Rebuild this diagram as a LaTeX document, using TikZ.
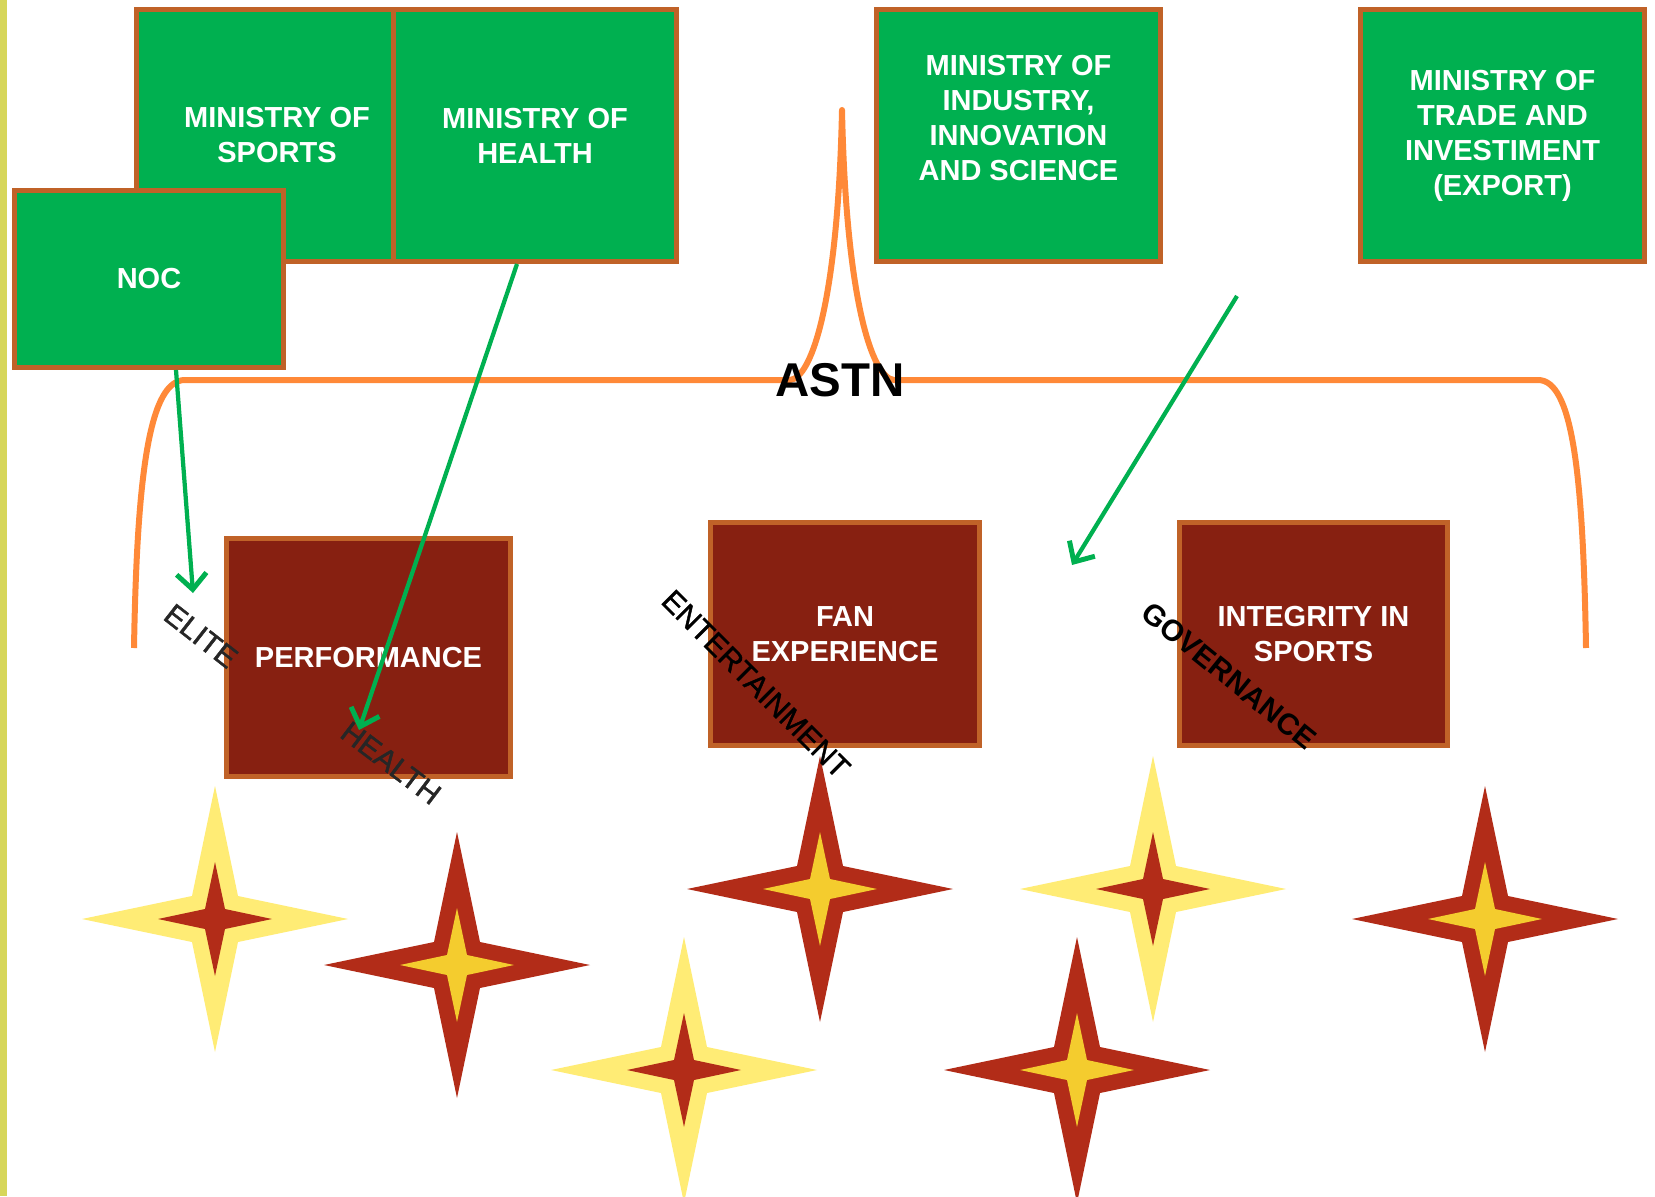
\documentclass[tikz,border=0pt]{standalone}
\usepackage{fontspec}
\setmainfont{Liberation Sans}
\newfontfamily\themefont{Liberation Sans}[FakeBold=1.4]
\usetikzlibrary{arrows.meta}

\definecolor{ministrygreen}{RGB}{0,176,80}
\definecolor{boxedge}{RGB}{192,98,40}
\definecolor{pillarred}{RGB}{135,32,17}
\definecolor{braceorange}{RGB}{255,137,56}
\definecolor{starred}{RGB}{178,44,24}
\definecolor{paleyellow}{RGB}{255,236,117}
\definecolor{gold}{RGB}{244,204,46}
\definecolor{stripyellow}{RGB}{214,214,90}

\begin{document}
\begin{tikzpicture}[x=0.02cm,y=-0.02cm,
        ministry/.style={draw=boxedge,line width=0.1cm,fill=ministrygreen,text=white,
            align=center,font=\fontsize{16.5}{19.9}\selectfont\bfseries},
        pillar/.style={ministry,fill=pillarred},
        theme/.style={inner sep=0pt,font=\fontsize{17}{20}\selectfont\themefont},
        link/.style={ministrygreen,line width=0.085cm,-{Straight Barb[length=9pt,width=17pt,line width=0.4pt 1]}}]
        \useasboundingbox (0,0) rectangle (1655,1196);
        \clip (0,0) rectangle (1655,1196);
        \fill [white] (0,0) rectangle (1655,1196);
        \fill [stripyellow] (0,0) rectangle (7,1196);

        % ministries
        \node [ministry,minimum width=5.62cm,minimum height=5.04cm] (sports) at (277,135.5) {MINISTRY OF\\SPORTS};
        \node [ministry,minimum width=5.66cm,minimum height=5.04cm] (health) at (535,135.5) {MINISTRY OF\\HEALTH};
        \node [ministry,minimum width=5.38cm,minimum height=3.54cm] (noc) at (149,279) {NOC};
        \node [ministry,minimum width=5.68cm,minimum height=5.04cm] (industry) at (1018.5,135.5) {MINISTRY OF\\INDUSTRY,\\INNOVATION\\AND SCIENCE\\\mbox{}};
        \node [ministry,minimum width=5.68cm,minimum height=5.04cm] (trade) at (1502.5,135.5) {MINISTRY OF\\TRADE AND\\INVESTIMENT\\(EXPORT)};

        % ASTN brace
        \draw [braceorange,line width=0.12cm,line join=round]
        (134,648) .. controls (137,470) and (150,380) .. (185,380) -- (790,380)
        .. controls (812,378) and (838,300) .. (842,110)
        .. controls (846,300) and (872,378) .. (894,380) -- (1538,380)
        .. controls (1572,380) and (1583,470) .. (1586,648);
        \node [font=\fontsize{27}{30}\selectfont\bfseries] (astn) at (840,380) {ASTN};

        % pillars
        \node [pillar,minimum width=5.68cm,minimum height=4.76cm] (performance) at (368.5,657.5) {PERFORMANCE};
        \node [pillar,minimum width=5.38cm,minimum height=4.46cm] (fan) at (845,634) {FAN\\EXPERIENCE};
        \node [pillar,minimum width=5.36cm,minimum height=4.46cm] (integrity) at (1313.5,634) {INTEGRITY IN\\SPORTS};

        % stars
        \foreach \sx/\sy/\outcol/\incol in {215/919/paleyellow/starred, 457/965/starred/gold,
            820/889/starred/gold, 1153/889/paleyellow/starred, 1485/919/starred/gold,
            684/1070/paleyellow/starred, 1077/1070/starred/gold}
        {
            \begin{scope}[shift={(\sx,\sy)}]
                \fill [\outcol] (0,-133) -- (23,-23) -- (133,0) -- (23,23) -- (0,133) -- (-23,23) -- (-133,0) -- (-23,-23) -- cycle;
                \fill [\incol] (0,-57) -- (10,-10) -- (57,0) -- (10,10) -- (0,57) -- (-10,10) -- (-57,0) -- (-10,-10) -- cycle;
            \end{scope}
        }

        \node [theme,text=black!85,rotate=-38] (elite) at (201,636) {ELITE};
        \node [theme,text=black!85,rotate=-37] (healthlbl) at (391,763) {HEALTH};
        \node [theme,rotate=-45] (entertainment) at (756,684) {ENTERTAINMENT};
        \node [theme,rotate=-39,font=\fontsize{17}{20}\selectfont\bfseries] (governance) at (1229,676) {GOVERNANCE};

        % links
        \coordinate (eliteend) at (193,593);
        \coordinate (healthend) at (359,730);
        \coordinate (tradestart) at (1237,296);
        \coordinate (gapend) at (1072,565);
        \draw [link] ([xshift=0.54cm]noc.south) -- (eliteend);
        \draw [link] ([xshift=-0.36cm]health.south) -- (healthend);
        \draw [link] (tradestart) -- (gapend);
    \end{tikzpicture}
\end{document}
